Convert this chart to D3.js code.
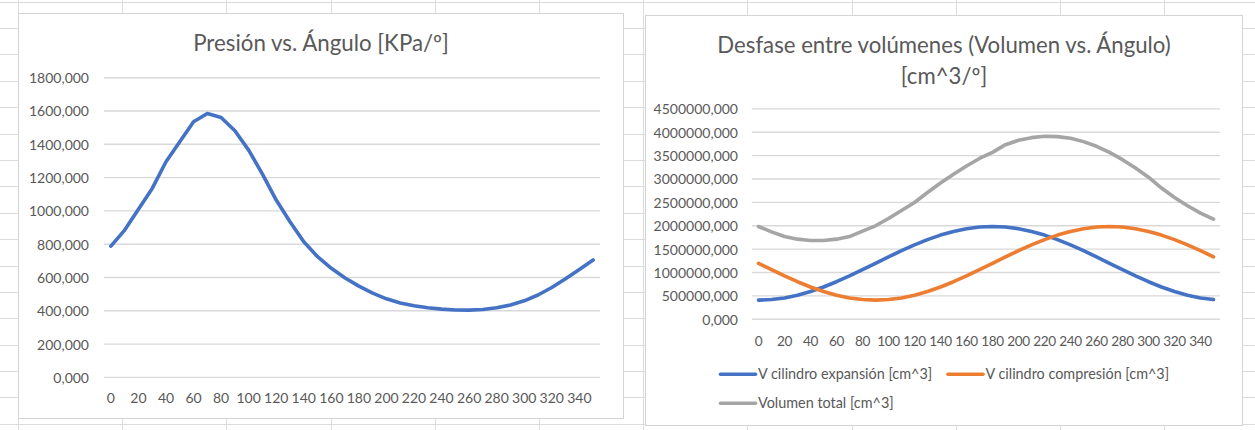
<!DOCTYPE html>
<html>
<head>
<meta charset="utf-8">
<script src="https://cdn.jsdelivr.net/npm/d3@7"></script>
<style>
  html, body { margin: 0; padding: 0; background: #fff; }
  svg { display: block; }
  text { font-family: Lato, "Open Sans", "Liberation Sans", sans-serif; fill: #595959; }
</style>
</head>
<body>
<svg id="sheet" width="1255" height="430"></svg>
<script>
// Crank angle categories (degrees)
const angles = [0, 10, 20, 30, 40, 50, 60, 70, 80, 90, 100, 110, 120, 130, 140, 150, 160, 170,
                180, 190, 200, 210, 220, 230, 240, 250, 260, 270, 280, 290, 300, 310, 320, 330, 340, 350];
const angleTicks = [0, 20, 40, 60, 80, 100, 120, 140, 160, 180, 200, 220, 240, 260, 280, 300, 320, 340];

// Pressure [KPa]
const pressure = [788, 885, 1010, 1135, 1295, 1415, 1535, 1585, 1561, 1481, 1365, 1221, 1065, 935, 815, 725,
                  655, 597, 548, 506, 472, 447, 430, 418, 410, 405, 404, 408, 418, 435, 460, 495, 540, 592, 648, 705];
const pressureTicks = [0, 200, 400, 600, 800, 1000, 1200, 1400, 1600, 1800];

// Volumes [cm^3]
const vExpansion = [410000, 422000, 457000, 515000, 594000, 691000, 804000, 928000, 1061000, 1197000, 1334000, 1467000,
                    1591000, 1704000, 1801000, 1880000, 1937000, 1973000, 1985000, 1973000, 1937000, 1880000, 1801000, 1704000,
                    1591000, 1467000, 1334000, 1197000, 1061000, 928000, 804000, 691000, 594000, 515000, 457000, 422000];
const vCompression = [1197000, 1061000, 928000, 804000, 691000, 594000, 515000, 457000, 422000, 410000, 422000, 457000,
                      515000, 594000, 691000, 804000, 928000, 1061000, 1197000, 1334000, 1467000, 1591000, 1704000, 1801000,
                      1880000, 1937000, 1973000, 1985000, 1973000, 1937000, 1880000, 1801000, 1704000, 1591000, 1467000, 1334000];
const vTotal = [1985000, 1871000, 1770000, 1714000, 1684000, 1684000, 1714000, 1770000, 1885000, 2000000, 2156000, 2327000,
                2499000, 2713000, 2914000, 3100000, 3280000, 3440000, 3571000, 3735000, 3828000, 3885000, 3914000, 3907000,
                3871000, 3800000, 3700000, 3571000, 3414000, 3236000, 3040000, 2807000, 2606000, 2428000, 2271000, 2143000];
const volumeTicks = [0, 500000, 1000000, 1500000, 2000000, 2500000, 3000000, 3500000, 4000000, 4500000];

const seriesNames = ["V cilindro expansión [cm^3]", "V cilindro compresión [cm^3]", "Volumen total [cm^3]"];
const seriesColors = ["#4472C4", "#ED7D31", "#A5A5A5"];

const esLocale = d3.formatLocale({ decimal: ",", thousands: "", grouping: [3], currency: ["", ""] });
const fmt = esLocale.format(".3f");

const svg = d3.select("#sheet");

// Worksheet cell grid behind the charts
const grid = svg.append("g").attr("stroke", "#dcdcdc").attr("stroke-width", 1);
for (let y = 1.5; y < 430; y += 26.4) {
  grid.append("line").attr("x1", 0).attr("x2", 1255).attr("y1", Math.round(y) + 0.5).attr("y2", Math.round(y) + 0.5);
}
for (let x = 18; x < 1255; x += 104.2) {
  grid.append("line").attr("y1", 0).attr("y2", 430).attr("x1", Math.round(x) + 0.5).attr("x2", Math.round(x) + 0.5);
}

function chartFrame(box) {
  const g = svg.append("g");
  g.append("rect")
    .attr("x", box.x + 0.5).attr("y", box.y + 0.5)
    .attr("width", box.w).attr("height", box.h)
    .attr("fill", "#fff").attr("stroke", "#d4d4d4").attr("stroke-width", 1);
  return g;
}

function drawPlot(g, opts) {
  const x = d3.scaleBand().domain(angles).range([opts.left, opts.right]).padding(0);
  const y = d3.scaleLinear().domain([opts.ticks[0], opts.ticks[opts.ticks.length - 1]]).range([opts.bottom, opts.top]);

  // horizontal gridlines
  g.append("g").selectAll("line").data(opts.ticks).join("line")
    .attr("x1", opts.left).attr("x2", opts.right)
    .attr("y1", d => y(d)).attr("y2", d => y(d))
    .attr("stroke", "#d9d9d9").attr("stroke-width", 1.4);

  // value axis labels
  const yAxis = d3.axisLeft(y).tickValues(opts.ticks).tickFormat(fmt).tickSize(0).tickPadding(0);
  const ya = g.append("g").attr("transform", `translate(${opts.yLabelX},0)`).call(yAxis);
  ya.select(".domain").remove();
  ya.selectAll("text").attr("font-size", 14).attr("fill", "#595959")
    .attr("font-family", "Lato, 'Open Sans', sans-serif").attr("dy", "0.35em");

  // category axis labels
  const xAxis = d3.axisBottom(x).tickValues(angleTicks).tickSize(0).tickPadding(0);
  const xa = g.append("g").attr("transform", `translate(0,${opts.xLabelY})`).call(xAxis);
  xa.select(".domain").remove();
  xa.selectAll("text").attr("font-size", opts.xFont).attr("fill", "#595959")
    .attr("letter-spacing", opts.xSpacing)
    .attr("font-family", "Lato, 'Open Sans', sans-serif").attr("dy", 0);

  const line = d3.line()
    .x((d, i) => x(angles[i]) + x.bandwidth() / 2)
    .y(d => y(d));

  opts.series.forEach(s => {
    g.append("path").datum(s.values)
      .attr("d", line)
      .attr("fill", "none")
      .attr("stroke", s.color)
      .attr("stroke-width", 3.6)
      .attr("stroke-linejoin", "round")
      .attr("stroke-linecap", "round");
  });
}

// ---- Chart 1: pressure vs angle ----
const c1 = chartFrame({ x: 18, y: 13, w: 605, h: 405 });
c1.append("text").attr("x", 321).attr("y", 51).attr("text-anchor", "middle")
  .attr("font-size", 22.3).text("Presión vs. Ángulo [KPa/º]");
drawPlot(c1, {
  left: 104, right: 600, top: 77.7, bottom: 377.4,
  ticks: pressureTicks, yLabelX: 89, xLabelY: 403, xFont: 14, xSpacing: 0,
  series: [{ values: pressure, color: seriesColors[0] }]
});

// ---- Chart 2: volumes vs angle ----
const c2 = chartFrame({ x: 645, y: 15, w: 597, h: 410 });
const t2 = c2.append("text").attr("text-anchor", "middle").attr("font-size", 22.2);
t2.append("tspan").attr("x", 944).attr("y", 53).text("Desfase entre volúmenes (Volumen vs. Ángulo)");
t2.append("tspan").attr("x", 944).attr("y", 83.5).text("[cm^3/º]");
drawPlot(c2, {
  left: 752, right: 1220, top: 108.9, bottom: 319.3,
  ticks: volumeTicks, yLabelX: 738, xLabelY: 345.5, xFont: 13.6, xSpacing: -0.3,
  series: [
    { values: vExpansion, color: seriesColors[0] },
    { values: vCompression, color: seriesColors[1] },
    { values: vTotal, color: seriesColors[2] }
  ]
});

// legend
const legendPos = [{ x: 720.5, y: 374.3 }, { x: 948, y: 374.3 }, { x: 720.5, y: 403.3 }];
const legend = c2.append("g").selectAll("g").data(seriesNames).join("g")
  .attr("transform", (d, i) => `translate(${legendPos[i].x},${legendPos[i].y})`);
legend.append("line").attr("x1", 0).attr("x2", 35).attr("y1", 0).attr("y2", 0)
  .attr("stroke", (d, i) => seriesColors[i]).attr("stroke-width", 3.6).attr("stroke-linecap", "round");
legend.append("text").attr("x", 37.5).attr("y", 5).attr("font-size", 14.4).text(d => d);
</script>
</body>
</html>
